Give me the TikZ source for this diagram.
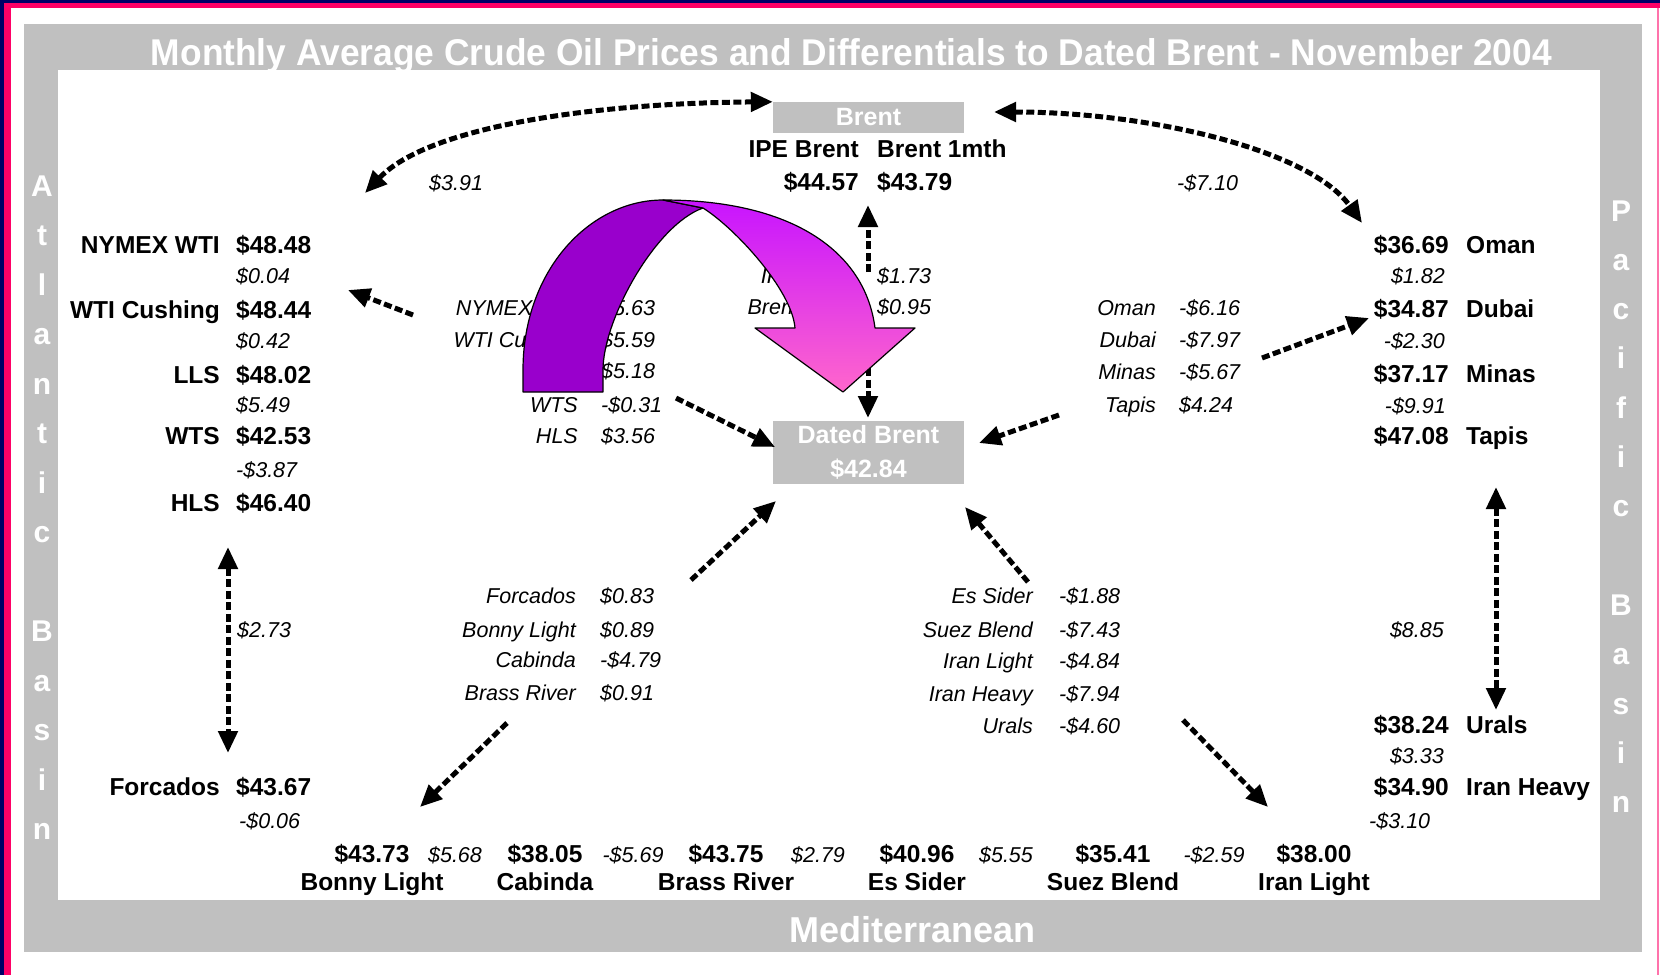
\documentclass[tikz,border=0pt]{standalone}
\usepackage{fontspec}
\usepackage{graphicx}
\setmainfont{Liberation Sans}
\usetikzlibrary{arrows.meta}

\definecolor{framegray}{HTML}{C0C0C0}
\definecolor{edgenavy}{HTML}{000066}
\definecolor{edgepink}{HTML}{FF0066}
\definecolor{ribbondark}{HTML}{9900CC}
\definecolor{ribbontop}{HTML}{C814FF}
\definecolor{ribbonbottom}{HTML}{FF66CC}

\begin{document}
\begin{tikzpicture}[
  x=1pt, y=-1pt,
  price/.style={font=\fontsize{24.5}{28}\selectfont\bfseries, inner sep=0pt},
  diff/.style={font=\fontsize{21.5}{25}\selectfont\itshape, inner sep=0pt},
  boxlabel/.style={fill=framegray, text=white, font=\fontsize{25}{34}\selectfont\bfseries,
                   inner sep=0pt, align=center, minimum width=191pt},
  basinletter/.style={font=\fontsize{30}{34}\selectfont\bfseries, text=white, inner sep=0pt, anchor=base},
  flowline/.style={draw=black, line width=5pt, dash pattern=on 8pt off 3.5pt,
                   >={Triangle[length=22pt,width=19pt]}},
  ribbonedge/.style={draw=black, line width=1.2pt, line join=round},
]
\useasboundingbox (0,0) rectangle (1660,975);

% page edge stripes
\fill[white] (0,0) rectangle (1660,975);
\fill[edgenavy] (0,0) rectangle (1660,3);
\fill[edgepink] (0,3) rectangle (1660,8);
\fill[edgenavy] (0,0) rectangle (4,975);
\fill[edgepink] (4,3) rectangle (11,975);
\fill[edgepink!55] (1657,8) rectangle (1659,975);

% grey frame
\fill[framegray] (24,24) rectangle (1642,952);
\fill[white] (58,70) rectangle (1600,900);

% frame captions
\node[anchor=base, text=white, inner sep=0pt] (title) at (851.5,65)
  {\resizebox{1401pt}{27pt}{\fontsize{36}{40}\selectfont\bfseries Monthly Average Crude Oil Prices and Differentials to Dated Brent - November 2004}};
\node[anchor=base, text=white, inner sep=0pt, font=\fontsize{36}{40}\selectfont\bfseries] (medit) at (912.5,942) {Mediterranean};

\foreach \ch/\k in {A/0,t/1,l/2,a/3,n/4,t/5,i/6,c/7,B/9,a/10,s/11,i/12,n/13}
  \node[basinletter] (atl\k) at (42,196+49.5*\k) {\ch};
\foreach \ch/\k in {P/0,a/1,c/2,i/3,f/4,i/5,c/6,B/8,a/9,s/10,i/11,n/12}
  \node[basinletter] (pac\k) at (1621,221+49.3*\k) {\ch};

% marker boxes
\node[boxlabel, minimum height=31pt] (brent) at (868.5,117.5) {Brent};
\node[boxlabel, minimum height=63pt] (dated) at (868.5,452.5) {Dated Brent\\\$42.84};

% Brent futures
\node[price, anchor=base east] (ipeL) at (859,157) {IPE Brent};
\node[price, anchor=base west] (monthL) at (877,157) {Brent 1mth};
\node[price, anchor=base east] (ipeP) at (859,190) {\$44.57};
\node[price, anchor=base west] (monthP) at (877,190) {\$43.79};
\node[diff, anchor=base west] (dAtlBrent) at (429,190) {\$3.91};
\node[diff, anchor=base west] (dPacBrent) at (1177,190) {-\$7.10};

% Atlantic basin column
\node[price, anchor=base east] (nymexL) at (220,253) {NYMEX WTI};
\node[price, anchor=base west] (nymexP) at (236,253) {\$48.48};
\node[diff, anchor=base west] (dNymex) at (236,283) {\$0.04};
\node[price, anchor=base east] (cushL) at (220,318) {WTI Cushing};
\node[price, anchor=base west] (cushP) at (236,318) {\$48.44};
\node[diff, anchor=base west] (dCush) at (236,348) {\$0.42};
\node[price, anchor=base east] (llsL) at (220,383) {LLS};
\node[price, anchor=base west] (llsP) at (236,383) {\$48.02};
\node[diff, anchor=base west] (dLls) at (236,412) {\$5.49};
\node[price, anchor=base east] (wtsL) at (220,444) {WTS};
\node[price, anchor=base west] (wtsP) at (236,444) {\$42.53};
\node[diff, anchor=base west] (dWts) at (236,477) {-\$3.87};
\node[price, anchor=base east] (hlsL) at (220,511) {HLS};
\node[price, anchor=base west] (hlsP) at (236,511) {\$46.40};
\node[diff, anchor=base west] (dAtlWaf) at (237,637) {\$2.73};
\node[price, anchor=base east] (forcL) at (220,795) {Forcados};
\node[price, anchor=base west] (forcP) at (236,795) {\$43.67};
\node[diff, anchor=base west] (dForc) at (239,828) {-\$0.06};

% Pacific basin column
\node[price, anchor=base east] (omanP) at (1449,253) {\$36.69};
\node[price, anchor=base west] (omanL) at (1466,253) {Oman};
\node[diff, anchor=base east] (dOman) at (1445,283) {\$1.82};
\node[price, anchor=base east] (dubaiP) at (1449,317) {\$34.87};
\node[price, anchor=base west] (dubaiL) at (1466,317) {Dubai};
\node[diff, anchor=base east] (dDubai) at (1445,348) {-\$2.30};
\node[price, anchor=base east] (minasP) at (1449,382) {\$37.17};
\node[price, anchor=base west] (minasL) at (1466,382) {Minas};
\node[diff, anchor=base east] (dMinas) at (1446,413) {-\$9.91};
\node[price, anchor=base east] (tapisP) at (1449,444) {\$47.08};
\node[price, anchor=base west] (tapisL) at (1466,444) {Tapis};
\node[diff, anchor=base east] (dPacMed) at (1444,637) {\$8.85};
\node[price, anchor=base east] (uralsP) at (1449,733) {\$38.24};
\node[price, anchor=base west] (uralsL) at (1466,733) {Urals};
\node[diff, anchor=base east] (dUrals) at (1444,763) {\$3.33};
\node[price, anchor=base east] (iranhP) at (1449,795) {\$34.90};
\node[price, anchor=base west] (iranhL) at (1466,795) {Iran Heavy};
\node[diff, anchor=base west] (dIranH) at (1369,828) {-\$3.10};

% bottom row
\node[price, anchor=base] (bonnyP) at (372,862) {\$43.73};
\node[price, anchor=base] (bonnyL) at (372,890) {Bonny Light};
\node[diff, anchor=base] (dBonny) at (455,862) {\$5.68};
\node[price, anchor=base] (cabP) at (545,862) {\$38.05};
\node[price, anchor=base] (cabL) at (545,890) {Cabinda};
\node[diff, anchor=base] (dCab) at (633,862) {-\$5.69};
\node[price, anchor=base] (brassP) at (726,862) {\$43.75};
\node[price, anchor=base] (brassL) at (726,890) {Brass River};
\node[diff, anchor=base] (dBrass) at (818,862) {\$2.79};
\node[price, anchor=base] (esP) at (917,862) {\$40.96};
\node[price, anchor=base] (esL) at (917,890) {Es Sider};
\node[diff, anchor=base] (dEs) at (1006,862) {\$5.55};
\node[price, anchor=base] (suezP) at (1113,862) {\$35.41};
\node[price, anchor=base] (suezL) at (1113,890) {Suez Blend};
\node[diff, anchor=base] (dSuez) at (1214,862) {-\$2.59};
\node[price, anchor=base] (iranlP) at (1314,862) {\$38.00};
\node[price, anchor=base] (iranlL) at (1314,890) {Iran Light};

% differentials to Dated Brent: US grades
\foreach \nm/\val/\yy/\id in {NYMEX WTI/\$5.63/315/a, WTI Cushing/\$5.59/347/b, LLS/\$5.18/378/c, WTS/-\$0.31/412/d, HLS/\$3.56/443/e} {
  \node[diff, anchor=base east] (usN\id) at (578,\yy) {\nm};
  \node[diff, anchor=base west] (usV\id) at (601,\yy) {\val};
}
% differentials to Dated Brent: Brent futures
\node[diff, anchor=base east] (futNa) at (853,283) {IPE Brent};
\node[diff, anchor=base west] (futVa) at (877,283) {\$1.73};
\node[diff, anchor=base east] (futNb) at (853,314) {Brent 1mth};
\node[diff, anchor=base west] (futVb) at (877,314) {\$0.95};
% differentials to Dated Brent: Middle East and Asia
\foreach \nm/\val/\yy/\id in {Oman/-\$6.16/315/a, Dubai/-\$7.97/347/b, Minas/-\$5.67/379/c, Tapis/\$4.24/412/d} {
  \node[diff, anchor=base east] (meN\id) at (1156,\yy) {\nm};
  \node[diff, anchor=base west] (meV\id) at (1179,\yy) {\val};
}
% differentials to Dated Brent: West Africa
\foreach \nm/\val/\yy/\id in {Forcados/\$0.83/603/a, Bonny Light/\$0.89/637/b, Cabinda/-\$4.79/667/c, Brass River/\$0.91/700/d} {
  \node[diff, anchor=base east] (wafN\id) at (576,\yy) {\nm};
  \node[diff, anchor=base west] (wafV\id) at (600,\yy) {\val};
}
% differentials to Dated Brent: Mediterranean
\foreach \nm/\val/\yy/\id in {Es Sider/-\$1.88/603/a, Suez Blend/-\$7.43/637/b, Iran Light/-\$4.84/668/c, Iran Heavy/-\$7.94/701/d, Urals/-\$4.60/733/e} {
  \node[diff, anchor=base east] (medN\id) at (1033,\yy) {\nm};
  \node[diff, anchor=base west] (medV\id) at (1059,\yy) {\val};
}

% connector ends
\coordinate (atlCurveEnd) at (365,193);
\coordinate (pacCurveStart) at (994,112);
\coordinate (pacCurveEnd) at (1362,223);
\coordinate (usTail) at (413,315);
\coordinate (usTip) at (348,290);
\coordinate (usDatedTail) at (676,398);
\coordinate (usDatedTip) at (775,447);
\coordinate (futUpTail) at (868,272);
\coordinate (futUpTip) at (868,205);
\coordinate (futDownTail) at (868,322);
\coordinate (futDownTip) at (868,418);
\coordinate (meDatedTail) at (1059,415);
\coordinate (meDatedTip) at (979,443);
\coordinate (meDubaiTail) at (1262,358);
\coordinate (meDubaiTip) at (1369,318);
\coordinate (wafDatedTail) at (691,580);
\coordinate (wafDatedTip) at (776,501);
\coordinate (wafBonnyTail) at (507,723);
\coordinate (wafBonnyTip) at (420,807);
\coordinate (medDatedTail) at (1028,582);
\coordinate (medDatedTip) at (965,507);
\coordinate (medIranTail) at (1183,720);
\coordinate (medIranTip) at (1268,807);
\coordinate (atlTop) at (228,547);
\coordinate (atlBottom) at (228,753);
\coordinate (pacTop) at (1496,487);
\coordinate (pacBottom) at (1496,710);

% connectors
\draw[flowline, <->] (atlCurveEnd) .. controls (430,125) and (600,103) .. (brent.north west);
\draw[flowline, <->] (pacCurveStart) .. controls (1150,112) and (1310,150) .. (pacCurveEnd);
\draw[flowline, ->] (usTail) -- (usTip);
\draw[flowline, ->] (usDatedTail) -- (usDatedTip);
\draw[flowline, ->] (futUpTail) -- (futUpTip);
\draw[flowline, ->] (futDownTail) -- (futDownTip);
\draw[flowline, ->] (meDatedTail) -- (meDatedTip);
\draw[flowline, ->] (meDubaiTail) -- (meDubaiTip);
\draw[flowline, ->] (wafDatedTail) -- (wafDatedTip);
\draw[flowline, ->] (wafBonnyTail) -- (wafBonnyTip);
\draw[flowline, ->] (medDatedTail) -- (medDatedTip);
\draw[flowline, ->] (medIranTail) -- (medIranTip);
\draw[flowline, <->] (atlTop) -- (atlBottom);
\draw[flowline, <->] (pacTop) -- (pacBottom);

% curved block arrow: rear band
\path[fill=ribbondark, ribbonedge]
  (523,392) -- (523,370)
  .. controls (523,270) and (590,200) .. (663,200)
  -- (703,208)
  .. controls (655,225) and (603,320) .. (603,370)
  -- (603,392) -- cycle;
% curved block arrow: front band and head
\path[top color=ribbontop, bottom color=ribbonbottom, ribbonedge]
  (663,200)
  .. controls (790,200) and (865,250) .. (875,328)
  -- (915,328) -- (843,392) -- (755,328) -- (795,328)
  .. controls (792,290) and (735,228) .. (703,208)
  -- cycle;
\end{tikzpicture}
\end{document}
